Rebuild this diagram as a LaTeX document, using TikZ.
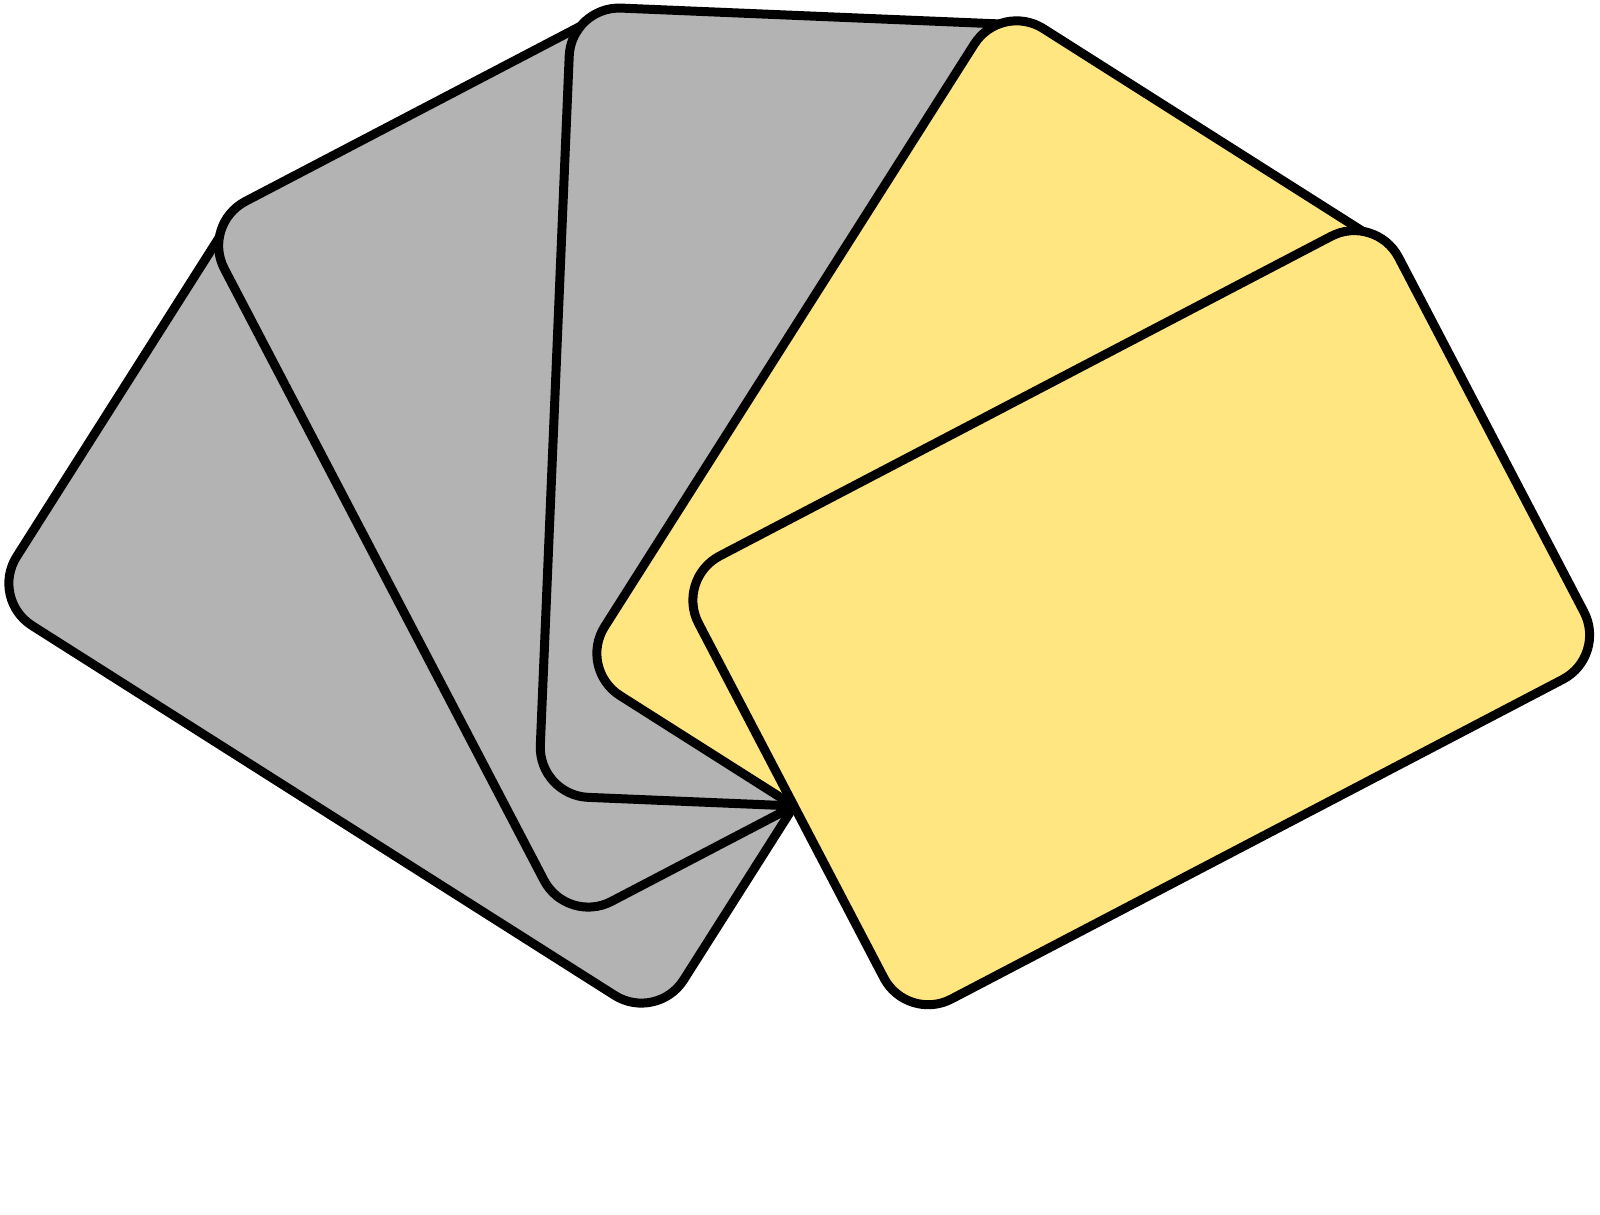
\documentclass[tikz,border=0pt]{standalone}
\usetikzlibrary{calc}
\definecolor{cardgray}{HTML}{B3B3B3}
\definecolor{cardyellow}{HTML}{FFE680}
\tikzset{card/.style={draw=black, line width=0.9mm, rounded corners=5mm,
  minimum width=79mm, minimum height=50mm, inner sep=0pt, outer sep=0pt, anchor=west}}

\begin{document}
\begin{tikzpicture}[x=0.1mm, y=0.1mm]
  \useasboundingbox (0,0) rectangle (1600,1215);
  \coordinate (pivot) at (794,409);
  % fan of cards, back to front
  \node[card, fill=cardgray, rotate=147.6] (c1) at ($(pivot)+(237.6:6)$) {};
  \node[card, fill=cardgray, rotate=117.6] (c2) at ($(pivot)+(207.6:6)$) {};
  \node[card, fill=cardgray, rotate=87.6] (c3) at ($(pivot)+(177.6:6)$) {};
  \node[card, fill=cardyellow, rotate=57.6] (c4) at ($(pivot)+(147.6:6)$) {};
  \node[card, fill=cardyellow, rotate=27.6] (c5) at ($(pivot)+(117.6:6)$) {};
\end{tikzpicture}
\end{document}
